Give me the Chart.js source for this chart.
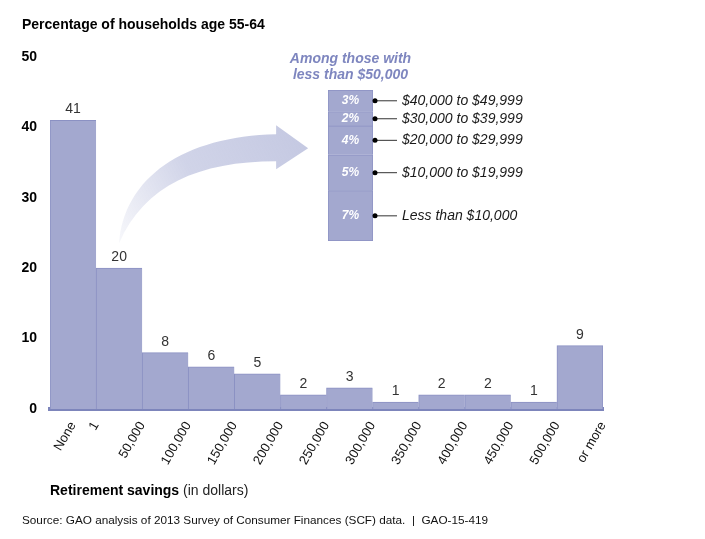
<!DOCTYPE html>
<html><head><meta charset="utf-8">
<script src="https://cdn.jsdelivr.net/npm/chart.js@4.4.1/dist/chart.umd.min.js"></script>
<style>
html,body{margin:0;padding:0;background:#fff;}
#wrap{position:relative;width:705px;height:539px;overflow:hidden;}
#main{position:absolute;left:0;top:0;}
#inset{position:absolute;left:270px;top:40px;}
</style></head><body>
<div id="wrap"><canvas id="main" width="705" height="539"></canvas><canvas id="inset" width="280" height="210"></canvas></div>
<script>
const FONT = "'Liberation Sans', Arial, Helvetica, sans-serif";
// Main histogram data
const binValues = [41, 20, 8, 6, 5, 2, 3, 1, 2, 2, 1, 9];
const tickLabels = ["None", "1", "50,000", "100,000", "150,000", "200,000", "250,000", "300,000", "350,000", "400,000", "450,000", "500,000", "or more"];
const yTicks = [0, 10, 20, 30, 40, 50];
// Inset (among those with less than $50,000), bottom to top
const insetCategories = ["Less than $10,000", "$10,000 to $19,999", "$20,000 to $29,999", "$30,000 to $39,999", "$40,000 to $49,999"];
const insetValues = [7, 5, 4, 2, 3];

const texts = {
  yTitle: "Percentage of households age 55-64",
  xTitleBold: "Retirement savings",
  xTitleNormal: " (in dollars)",
  source: "Source: GAO analysis of 2013 Survey of Consumer Finances (SCF) data.  |  GAO-15-419",
  insetTitle: ["Among those with", "less than $50,000"]
};

const FILL = '#a3a8cf', EDGE = '#8b91c3', BASE = '#7d85bb';

// tick positions: first label at the centre of the first bin, the rest at bin edges
const tickValues = tickLabels.map((t, i) => i === 0 ? 0.5 : i);
const nBins = binValues.length;

const labelsPlugin = {
  id: 'labels',
  afterDatasetsDraw(chart) {
    const ctx = chart.ctx;
    const meta = chart.getDatasetMeta(0);
    ctx.save();
    ctx.font = '14px ' + FONT;
    ctx.fillStyle = '#333';
    ctx.textAlign = 'center';
    ctx.textBaseline = 'alphabetic';
    meta.data.forEach((el, i) => ctx.fillText(String(binValues[i]), el.x, el.y - 7));
    ctx.restore();
  },
  afterDraw(chart) {
    const ctx = chart.ctx;
    const ca = chart.chartArea;
    ctx.save();
    ctx.fillStyle = '#000';
    ctx.textBaseline = 'middle';
    ctx.textAlign = 'left';
    ctx.font = 'bold 14px ' + FONT;
    ctx.fillText(texts.yTitle, 22, 25);
    ctx.fillText(texts.xTitleBold, ca.left, 491);
    const w = ctx.measureText(texts.xTitleBold).width;
    ctx.font = '14px ' + FONT;
    ctx.fillStyle = '#222';
    ctx.fillText(texts.xTitleNormal, ca.left + w, 491);
    ctx.font = '11.75px ' + FONT;
    ctx.fillStyle = '#111';
    ctx.fillText(texts.source, 22, 521);

    // curved arrow from the "1 to 50,000" bar towards the inset
    const el = chart.getDatasetMeta(0).data[1];
    const x0 = el.x, y0 = el.y - 25;
    const hx = x0 + 157;        // head base x
    const tip = hx + 32;
    const yu = y0 - 109, yl = y0 - 82, ym = y0 - 95;
    const g = ctx.createLinearGradient(x0, y0, tip, ym);
    g.addColorStop(0, 'rgba(200,204,228,0.15)');
    g.addColorStop(0.45, 'rgba(200,204,228,0.85)');
    g.addColorStop(1, 'rgba(197,201,226,1)');
    ctx.fillStyle = g;
    ctx.beginPath();
    ctx.moveTo(x0, y0);
    ctx.bezierCurveTo(x0 + 5, y0 - 66, x0 + 65, y0 - 107, hx, yu);
    ctx.lineTo(hx, ym - 23);
    ctx.lineTo(tip, ym);
    ctx.lineTo(hx, ym + 21);
    ctx.lineTo(hx, yl);
    ctx.bezierCurveTo(x0 + 80, y0 - 82, x0 + 25, y0 - 58, x0, y0);
    ctx.closePath();
    ctx.fill();
    ctx.restore();
  }
};

new Chart(document.getElementById('main'), {
  type: 'bar',
  data: {
    datasets: [{
      data: binValues.map((v, i) => ({ x: i + 0.5, y: v })),
      backgroundColor: FILL,
      borderColor: EDGE,
      borderWidth: (c) => ({ top: 1, left: 1, right: c.dataIndex === nBins - 1 ? 1 : 0, bottom: 0 }),
      borderSkipped: false,
      barPercentage: 1,
      categoryPercentage: 1,
      xAxisID: 'x',
      yAxisID: 'y'
    }]
  },
  options: {
    responsive: false,
    animation: false,
    events: [],
    layout: { padding: { left: 0, top: 57, right: 102, bottom: 0 } },
    plugins: { legend: { display: false }, tooltip: { enabled: false } },
    scales: {
      x: { type: 'linear', min: 0, max: nBins, offset: false, display: false, ticks: { stepSize: 1 } },
      xl: {
        type: 'linear', position: 'bottom', min: 0, max: nBins, offset: false,
        afterBuildTicks: (s) => { s.ticks = tickValues.map(v => ({ value: v })); },
        afterFit: (s) => { s.height = 130; },
        grid: { display: false, drawTicks: false },
        border: { display: true, color: BASE, width: 4 },
        ticks: {
          autoSkip: false, minRotation: 60, maxRotation: 60, padding: 10,
          font: { family: FONT, size: 13 }, color: '#111',
          callback: (v, i) => tickLabels[i]
        }
      },
      y: {
        min: 0, max: 50,
        afterFit: (s) => { s.width = 50; },
        afterBuildTicks: (s) => { s.ticks = yTicks.map(v => ({ value: v })); },
        grid: { display: false, drawTicks: false },
        border: { display: false },
        ticks: { padding: 13, font: { family: FONT, size: 14, weight: 'bold' }, color: '#000' }
      }
    }
  },
  plugins: [labelsPlugin]
});

const insetPlugin = {
  id: 'insetLabels',
  afterDatasetsDraw(chart) {
    const ctx = chart.ctx;
    const ca = chart.chartArea;
    ctx.save();
    chart.data.datasets.forEach((ds, i) => {
      const el = chart.getDatasetMeta(i).data[0];
      const cy = (el.y + el.base) / 2;
      ctx.font = 'italic bold 12px ' + FONT;
      ctx.fillStyle = '#fff';
      ctx.textAlign = 'center';
      ctx.textBaseline = 'middle';
      ctx.fillText(insetValues[i] + '%', el.x, cy);
      ctx.strokeStyle = '#333';
      ctx.lineWidth = 1;
      ctx.beginPath();
      ctx.moveTo(ca.right + 2, cy);
      ctx.lineTo(ca.right + 24, cy);
      ctx.stroke();
      ctx.fillStyle = '#000';
      ctx.beginPath();
      ctx.arc(ca.right + 2, cy, 2.5, 0, Math.PI * 2);
      ctx.fill();
      ctx.font = 'italic 14px ' + FONT;
      ctx.fillStyle = '#1a1a1a';
      ctx.textAlign = 'left';
      ctx.fillText(insetCategories[i], ca.right + 29, cy);
    });
    ctx.font = 'italic bold 14px ' + FONT;
    ctx.fillStyle = '#7e86bf';
    ctx.textAlign = 'center';
    ctx.textBaseline = 'middle';
    const cx = (ca.left + ca.right) / 2;
    ctx.fillText(texts.insetTitle[0], cx, ca.top - 31);
    ctx.fillText(texts.insetTitle[1], cx, ca.top - 15);
    ctx.restore();
  }
};

new Chart(document.getElementById('inset'), {
  type: 'bar',
  data: {
    labels: [''],
    datasets: insetValues.map((v, i) => ({
      label: insetCategories[i],
      data: [v],
      backgroundColor: FILL,
      borderColor: EDGE,
      borderWidth: { top: 1, left: 1, right: 1, bottom: i === 0 ? 1 : 0 },
      borderSkipped: false,
      barPercentage: 1,
      categoryPercentage: 1
    }))
  },
  options: {
    responsive: false,
    animation: false,
    events: [],
    layout: { padding: { left: 58, right: 177, top: 50, bottom: 9 } },
    plugins: { legend: { display: false }, tooltip: { enabled: false } },
    scales: {
      x: { stacked: true, display: false },
      y: { stacked: true, display: false, min: 0, max: insetValues.reduce((a, b) => a + b, 0) }
    }
  },
  plugins: [insetPlugin]
});
</script>
</body></html>
